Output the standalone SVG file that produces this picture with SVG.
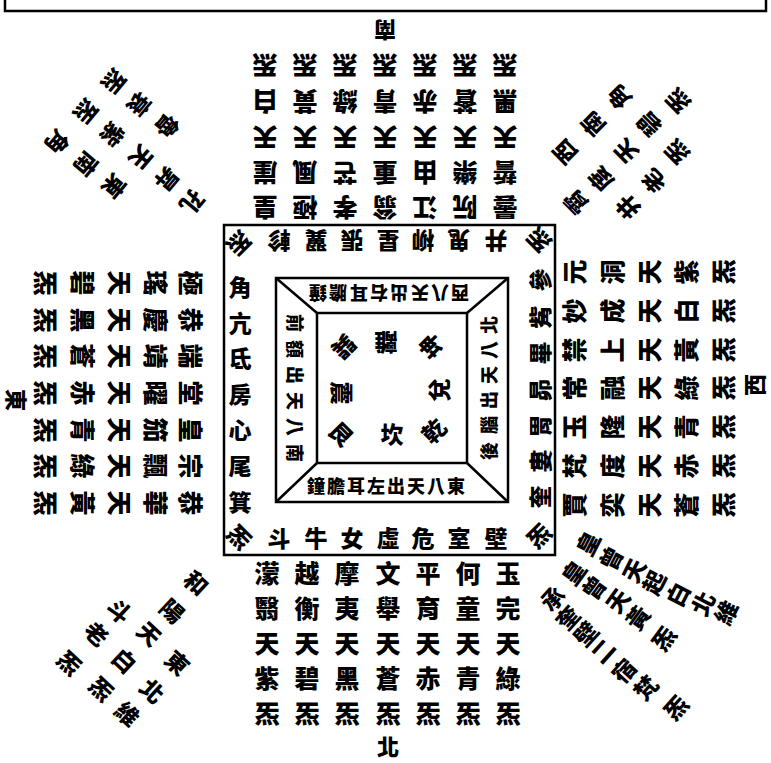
<svg xmlns="http://www.w3.org/2000/svg" width="771" height="763" viewBox="0 0 771 763">
<style>
text{font-family:"Noto Sans CJK TC","Noto Sans CJK SC",sans-serif;font-weight:900;text-anchor:middle;dominant-baseline:central;fill:#000}
.b{font-size:25px}.r{font-size:23px}.t{font-size:18px}.g{font-size:23px}.d{font-size:23px}.l{font-size:22px}
.ln{fill:none;stroke:#000;stroke-width:2.5}
</style>
<rect width="771" height="763" fill="#fff"/>
<g id="frame">
<path class="ln" d="M5,0V11H766V0"/>
<rect class="ln" x="224" y="225" width="331" height="330"/>
<rect class="ln" x="276" y="278" width="232" height="224"/>
<rect class="ln" x="317" y="313" width="150" height="150"/>
<path class="ln" stroke-width="2" d="M276,278L317,313M508,278L467,313M276,502L317,463M508,502L467,463"/>
</g>
<g id="labels">
<text class="l" x="385" y="32" transform="rotate(180 385 32)">南</text>
<text class="l" x="388" y="745">北</text>
<text class="l" x="18" y="400" transform="rotate(90 18 400)">東</text>
<text class="l" x="753" y="385" transform="rotate(-90 753 385)">西</text>
</g>
<g id="south-block" class="b">
<text x="265" y="67" transform="rotate(180 265 67)">炁</text><text x="265" y="103" transform="rotate(180 265 103)">白</text><text x="265" y="139" transform="rotate(180 265 139)">天</text><text x="265" y="174" transform="rotate(180 265 174)">崖</text><text x="265" y="209" transform="rotate(180 265 209)">皇</text>
<text x="305" y="67" transform="rotate(180 305 67)">炁</text><text x="305" y="103" transform="rotate(180 305 103)">黃</text><text x="305" y="139" transform="rotate(180 305 139)">天</text><text x="305" y="174" transform="rotate(180 305 174)">風</text><text x="305" y="209" transform="rotate(180 305 209)">極</text>
<text x="345" y="67" transform="rotate(180 345 67)">炁</text><text x="345" y="103" transform="rotate(180 345 103)">綠</text><text x="345" y="139" transform="rotate(180 345 139)">天</text><text x="345" y="174" transform="rotate(180 345 174)">芒</text><text x="345" y="209" transform="rotate(180 345 209)">孝</text>
<text x="385" y="67" transform="rotate(180 385 67)">炁</text><text x="385" y="103" transform="rotate(180 385 103)">青</text><text x="385" y="139" transform="rotate(180 385 139)">天</text><text x="385" y="174" transform="rotate(180 385 174)">重</text><text x="385" y="209" transform="rotate(180 385 209)">翁</text>
<text x="425" y="67" transform="rotate(180 425 67)">炁</text><text x="425" y="103" transform="rotate(180 425 103)">赤</text><text x="425" y="139" transform="rotate(180 425 139)">天</text><text x="425" y="174" transform="rotate(180 425 174)">由</text><text x="425" y="209" transform="rotate(180 425 209)">江</text>
<text x="465" y="67" transform="rotate(180 465 67)">炁</text><text x="465" y="103" transform="rotate(180 465 103)">蒼</text><text x="465" y="139" transform="rotate(180 465 139)">天</text><text x="465" y="174" transform="rotate(180 465 174)">樂</text><text x="465" y="209" transform="rotate(180 465 209)">阮</text>
<text x="505" y="67" transform="rotate(180 505 67)">炁</text><text x="505" y="103" transform="rotate(180 505 103)">黑</text><text x="505" y="139" transform="rotate(180 505 139)">天</text><text x="505" y="174" transform="rotate(180 505 174)">誓</text><text x="505" y="209" transform="rotate(180 505 209)">曇</text>
</g>
<g id="north-block" class="b">
<text x="267" y="572">濛</text><text x="267" y="607">翳</text><text x="267" y="642">天</text><text x="267" y="677">紫</text><text x="267" y="712">炁</text>
<text x="307" y="572">越</text><text x="307" y="607">衡</text><text x="307" y="642">天</text><text x="307" y="677">碧</text><text x="307" y="712">炁</text>
<text x="347" y="572">摩</text><text x="347" y="607">夷</text><text x="347" y="642">天</text><text x="347" y="677">黑</text><text x="347" y="712">炁</text>
<text x="388" y="572">文</text><text x="388" y="607">舉</text><text x="388" y="642">天</text><text x="388" y="677">蒼</text><text x="388" y="712">炁</text>
<text x="428" y="572">平</text><text x="428" y="607">育</text><text x="428" y="642">天</text><text x="428" y="677">赤</text><text x="428" y="712">炁</text>
<text x="468" y="572">何</text><text x="468" y="607">童</text><text x="468" y="642">天</text><text x="468" y="677">青</text><text x="468" y="712">炁</text>
<text x="508" y="572">玉</text><text x="508" y="607">完</text><text x="508" y="642">天</text><text x="508" y="677">綠</text><text x="508" y="712">炁</text>
</g>
<g id="east-block" class="b">
<text x="192" y="283" transform="rotate(90 192 283)">極</text><text x="157" y="283" transform="rotate(90 157 283)">瑤</text><text x="121" y="283" transform="rotate(90 121 283)">天</text><text x="84" y="283" transform="rotate(90 84 283)">碧</text><text x="47" y="283" transform="rotate(90 47 283)">炁</text>
<text x="192" y="320" transform="rotate(90 192 320)">恭</text><text x="157" y="320" transform="rotate(90 157 320)">慶</text><text x="121" y="320" transform="rotate(90 121 320)">天</text><text x="84" y="320" transform="rotate(90 84 320)">黑</text><text x="47" y="320" transform="rotate(90 47 320)">炁</text>
<text x="192" y="356" transform="rotate(90 192 356)">端</text><text x="157" y="356" transform="rotate(90 157 356)">靖</text><text x="121" y="356" transform="rotate(90 121 356)">天</text><text x="84" y="356" transform="rotate(90 84 356)">蒼</text><text x="47" y="356" transform="rotate(90 47 356)">炁</text>
<text x="192" y="393" transform="rotate(90 192 393)">堂</text><text x="157" y="393" transform="rotate(90 157 393)">曜</text><text x="121" y="393" transform="rotate(90 121 393)">天</text><text x="84" y="393" transform="rotate(90 84 393)">赤</text><text x="47" y="393" transform="rotate(90 47 393)">炁</text>
<text x="192" y="430" transform="rotate(90 192 430)">皇</text><text x="157" y="430" transform="rotate(90 157 430)">笳</text><text x="121" y="430" transform="rotate(90 121 430)">天</text><text x="84" y="430" transform="rotate(90 84 430)">青</text><text x="47" y="430" transform="rotate(90 47 430)">炁</text>
<text x="192" y="466" transform="rotate(90 192 466)">宗</text><text x="157" y="466" transform="rotate(90 157 466)">飄</text><text x="121" y="466" transform="rotate(90 121 466)">天</text><text x="84" y="466" transform="rotate(90 84 466)">綠</text><text x="47" y="466" transform="rotate(90 47 466)">炁</text>
<text x="192" y="503" transform="rotate(90 192 503)">恭</text><text x="157" y="503" transform="rotate(90 157 503)">華</text><text x="121" y="503" transform="rotate(90 121 503)">天</text><text x="84" y="503" transform="rotate(90 84 503)">黃</text><text x="47" y="503" transform="rotate(90 47 503)">炁</text>
</g>
<g id="west-block" class="b">
<text x="573" y="272" transform="rotate(-90 573 272)">元</text><text x="611" y="272" transform="rotate(-90 611 272)">洞</text><text x="648" y="272" transform="rotate(-90 648 272)">天</text><text x="685" y="272" transform="rotate(-90 685 272)">紫</text><text x="722" y="272" transform="rotate(-90 722 272)">炁</text>
<text x="573" y="311" transform="rotate(-90 573 311)">妙</text><text x="611" y="311" transform="rotate(-90 611 311)">成</text><text x="648" y="311" transform="rotate(-90 648 311)">天</text><text x="685" y="311" transform="rotate(-90 685 311)">白</text><text x="722" y="311" transform="rotate(-90 722 311)">炁</text>
<text x="573" y="350" transform="rotate(-90 573 350)">禁</text><text x="611" y="350" transform="rotate(-90 611 350)">上</text><text x="648" y="350" transform="rotate(-90 648 350)">天</text><text x="685" y="350" transform="rotate(-90 685 350)">黃</text><text x="722" y="350" transform="rotate(-90 722 350)">炁</text>
<text x="573" y="388" transform="rotate(-90 573 388)">常</text><text x="611" y="388" transform="rotate(-90 611 388)">融</text><text x="648" y="388" transform="rotate(-90 648 388)">天</text><text x="685" y="388" transform="rotate(-90 685 388)">綠</text><text x="722" y="388" transform="rotate(-90 722 388)">炁</text>
<text x="573" y="427" transform="rotate(-90 573 427)">玉</text><text x="611" y="427" transform="rotate(-90 611 427)">隆</text><text x="648" y="427" transform="rotate(-90 648 427)">天</text><text x="685" y="427" transform="rotate(-90 685 427)">青</text><text x="722" y="427" transform="rotate(-90 722 427)">炁</text>
<text x="573" y="466" transform="rotate(-90 573 466)">梵</text><text x="611" y="466" transform="rotate(-90 611 466)">度</text><text x="648" y="466" transform="rotate(-90 648 466)">天</text><text x="685" y="466" transform="rotate(-90 685 466)">赤</text><text x="722" y="466" transform="rotate(-90 722 466)">炁</text>
<text x="573" y="505" transform="rotate(-90 573 505)">賈</text><text x="611" y="505" transform="rotate(-90 611 505)">奕</text><text x="648" y="505" transform="rotate(-90 648 505)">天</text><text x="685" y="505" transform="rotate(-90 685 505)">蒼</text><text x="722" y="505" transform="rotate(-90 722 505)">炁</text>
</g>
<g id="ring" class="r">
<text x="240" y="244" transform="rotate(135 240 244)">炁</text>
<text x="538" y="241" transform="rotate(-135 538 241)">炁</text>
<text x="240" y="536" transform="rotate(45 240 536)">炁</text>
<text x="538" y="535" transform="rotate(-45 538 535)">炁</text>
<text x="279" y="242" transform="rotate(180 279 242)">軫</text><text x="316" y="242" transform="rotate(180 316 242)">翼</text><text x="352" y="242" transform="rotate(180 352 242)">張</text><text x="388" y="242" transform="rotate(180 388 242)">星</text><text x="423" y="242" transform="rotate(180 423 242)">柳</text><text x="459" y="242" transform="rotate(180 459 242)">鬼</text><text x="496" y="242" transform="rotate(180 496 242)">井</text>
<text x="240" y="286">角</text><text x="240" y="322">亢</text><text x="240" y="357">氐</text><text x="240" y="393">房</text><text x="240" y="429">心</text><text x="240" y="465">尾</text><text x="240" y="501">箕</text>
<text x="279" y="537">斗</text><text x="316" y="537">牛</text><text x="352" y="537">女</text><text x="388" y="537">虛</text><text x="423" y="537">危</text><text x="459" y="537">室</text><text x="496" y="537">壁</text>
<text x="539" y="280" transform="rotate(-90 539 280)">參</text><text x="539" y="317" transform="rotate(-90 539 317)">觜</text><text x="539" y="353" transform="rotate(-90 539 353)">畢</text><text x="539" y="390" transform="rotate(-90 539 390)">昴</text><text x="539" y="426" transform="rotate(-90 539 426)">胃</text><text x="539" y="461" transform="rotate(-90 539 461)">婁</text><text x="539" y="497" transform="rotate(-90 539 497)">奎</text>
</g>
<g id="inner-bands" class="t">
<text x="318" y="294" transform="rotate(180 318 294)">鐘</text><text x="338" y="294" transform="rotate(180 338 294)">膽</text><text x="359" y="294" transform="rotate(180 359 294)">耳</text><text x="379" y="294" transform="rotate(180 379 294)">右</text><text x="399" y="294" transform="rotate(180 399 294)">出</text><text x="420" y="294" transform="rotate(180 420 294)">天</text><text x="440" y="294" transform="rotate(180 440 294)">八</text><text x="460" y="294" transform="rotate(180 460 294)">西</text>
<text x="316" y="485">鐘</text><text x="336" y="485">膽</text><text x="356" y="485">耳</text><text x="376" y="485">左</text><text x="396" y="485">出</text><text x="416" y="485">天</text><text x="436" y="485">八</text><text x="456" y="485">東</text>
<text x="296" y="323" transform="rotate(90 296 323)">前</text><text x="296" y="349" transform="rotate(90 296 349)">額</text><text x="296" y="375" transform="rotate(90 296 375)">出</text><text x="296" y="401" transform="rotate(90 296 401)">天</text><text x="296" y="427" transform="rotate(90 296 427)">八</text><text x="296" y="453" transform="rotate(90 296 453)">南</text>
<text x="488" y="325" transform="rotate(-90 488 325)">北</text><text x="488" y="350" transform="rotate(-90 488 350)">八</text><text x="488" y="375" transform="rotate(-90 488 375)">天</text><text x="488" y="400" transform="rotate(-90 488 400)">出</text><text x="488" y="425" transform="rotate(-90 488 425)">腦</text><text x="488" y="451" transform="rotate(-90 488 451)">後</text>
</g>
<g id="trigrams" class="g">
<text x="386" y="344" transform="rotate(180 386 344)">離</text>
<text x="345" y="348" transform="rotate(135 345 348)">巽</text>
<text x="430" y="347" transform="rotate(-135 430 347)">坤</text>
<text x="343" y="393" transform="rotate(90 343 393)">震</text>
<text x="438" y="390" transform="rotate(-90 438 390)">兌</text>
<text x="342" y="433" transform="rotate(45 342 433)">艮</text>
<text x="392" y="433">坎</text>
<text x="433" y="430" transform="rotate(-45 433 430)">乾</text>
</g>
<g id="corner-se" class="d">
<text x="193" y="203" transform="rotate(130 193 203)">孔</text><text x="168" y="180" transform="rotate(130 168 180)">昇</text><text x="142" y="158" transform="rotate(130 142 158)">天</text><text x="113" y="135" transform="rotate(130 113 135)">紫</text><text x="87" y="112" transform="rotate(130 87 112)">炁</text>
<text x="115" y="187" transform="rotate(130 115 187)">東</text><text x="87" y="165" transform="rotate(130 87 165)">南</text><text x="58" y="143" transform="rotate(130 58 143)">角</text>
<text x="168" y="127" transform="rotate(130 168 127)">魯</text><text x="140" y="105" transform="rotate(130 140 105)">衰</text><text x="115" y="82" transform="rotate(130 115 82)">炁</text>
</g>
<g id="corner-sw" class="d">
<text x="575" y="203" transform="rotate(-135 575 203)">霄</text><text x="600" y="180" transform="rotate(-135 600 180)">度</text><text x="625" y="152" transform="rotate(-135 625 152)">天</text><text x="648" y="125" transform="rotate(-135 648 125)">碧</text><text x="677" y="102" transform="rotate(-135 677 102)">炁</text>
<text x="564" y="153" transform="rotate(-135 564 153)">西</text><text x="592" y="125" transform="rotate(-135 592 125)">南</text><text x="618" y="98" transform="rotate(-135 618 98)">角</text>
<text x="627" y="208" transform="rotate(-135 627 208)">井</text><text x="653" y="182" transform="rotate(-135 653 182)">老</text><text x="676" y="153" transform="rotate(-135 676 153)">炁</text>
</g>
<g id="corner-ne" class="d">
<text x="197" y="582" transform="rotate(43 197 582)">和</text><text x="173" y="610" transform="rotate(43 173 610)">陽</text><text x="150" y="633" transform="rotate(43 150 633)">天</text><text x="125" y="660" transform="rotate(43 125 660)">白</text><text x="102" y="688" transform="rotate(43 102 688)">炁</text>
<text x="120" y="610" transform="rotate(43 120 610)">斗</text><text x="97" y="633" transform="rotate(43 97 633)">老</text><text x="70" y="662" transform="rotate(43 70 662)">炁</text>
<text x="178" y="662" transform="rotate(43 178 662)">東</text><text x="153" y="690" transform="rotate(43 153 690)">北</text><text x="128" y="713" transform="rotate(43 128 713)">維</text>
</g>
<g id="corner-nw" class="d">
<text x="587" y="543" transform="rotate(-63 587 543)">皇</text><text x="610" y="558" transform="rotate(-63 610 558)">曾</text><text x="633" y="570" transform="rotate(-63 633 570)">天</text><text x="653" y="582" transform="rotate(-63 653 582)">起</text><text x="677" y="594" transform="rotate(-63 677 594)">白</text><text x="702" y="603" transform="rotate(-63 702 603)">北</text><text x="725" y="612" transform="rotate(-63 725 612)">維</text>
<text x="573" y="572" transform="rotate(-54 573 572)">皇</text><text x="593" y="587" transform="rotate(-54 593 587)">曾</text><text x="617" y="600" transform="rotate(-54 617 600)">天</text><text x="637" y="617" transform="rotate(-54 637 617)">黃</text><text x="663" y="638" transform="rotate(-54 663 638)">炁</text>
<text x="552" y="598" transform="rotate(-48 552 598)">承</text><text x="567" y="617" transform="rotate(-48 567 617)">奎</text><text x="585" y="633" transform="rotate(-48 585 633)">壁</text><text x="602" y="650" transform="rotate(-48 602 650)">二</text><text x="623" y="670" transform="rotate(-48 623 670)">宿</text><text x="645" y="687" transform="rotate(-48 645 687)">梵</text><text x="675" y="707" transform="rotate(-48 675 707)">炁</text>
</g>
</svg>
